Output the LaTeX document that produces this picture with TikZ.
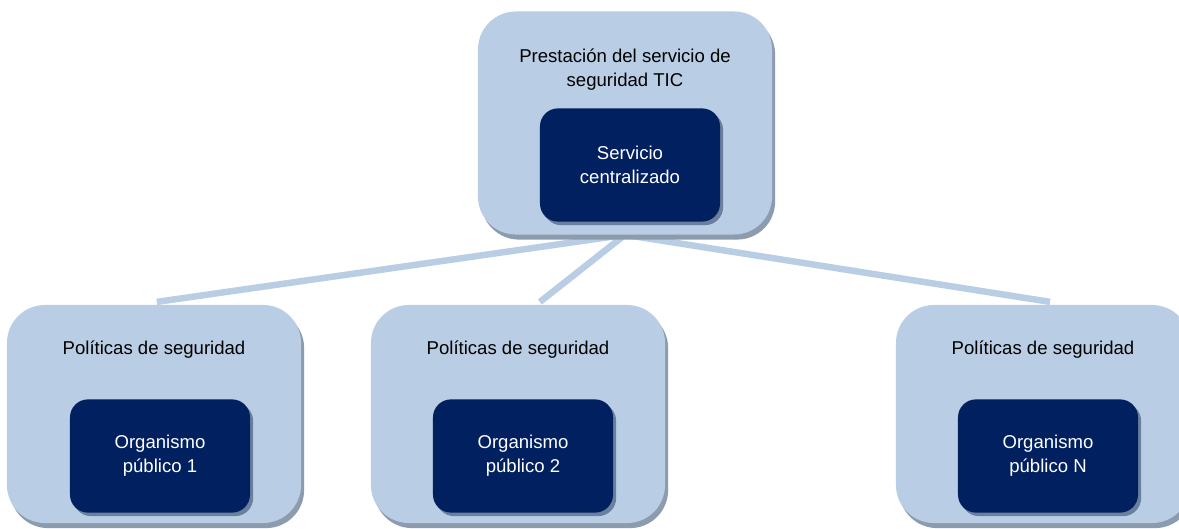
\documentclass[tikz,border=0pt]{standalone}
\usepackage{fontspec}
\setmainfont{Liberation Sans}
\usetikzlibrary{shadows,backgrounds}
\definecolor{paleblue}{HTML}{B9CDE5}
\definecolor{navy}{HTML}{002060}
\definecolor{shadeout}{HTML}{8D9BAE}
\definecolor{shadein}{HTML}{6B7F9E}

\begin{document}
\begin{tikzpicture}[x=0.025cm, y=-0.025cm, font=\fontsize{13.2}{17}\selectfont,
    outer/.style={rectangle, rounded corners=0.95cm, fill=paleblue, minimum width=7.35cm, minimum height=5.45cm,
      drop shadow={shadow xshift=2.2pt, shadow yshift=-3.6pt, fill=shadeout, opacity=1}},
    inner/.style={rectangle, rounded corners=0.45cm, fill=navy, text=white, align=center, minimum width=4.5cm, minimum height=2.83cm,
      drop shadow={shadow xshift=2.2pt, shadow yshift=-2.5pt, fill=shadein, opacity=1}},
    title/.style={align=center, text=black},
    link/.style={draw=paleblue, line width=4.6pt}]
  \useasboundingbox (0,0) rectangle (1179,528);
  \clip (0,0) rectangle (1179,528);

  % top level
  \node[outer, minimum height=5.575cm] (top) at (625,123) {};
  \node[title] (ttop) at (625,70) {Prestación del servicio de\\seguridad TIC};
  \node[inner] (serv) at (630,165) {Servicio\\centralizado};

  % organismos
  \node[outer] (pol1) at (154,414) {};
  \node[title] (t1) at (154,350) {Políticas de seguridad};
  \node[inner] (org1) at (160,456) {Organismo\\público 1};

  \node[outer] (pol2) at (518,414) {};
  \node[title] (t2) at (518,350) {Políticas de seguridad};
  \node[inner] (org2) at (523,456) {Organismo\\público 2};

  \node[outer] (polN) at (1043,414) {};
  \node[title] (tN) at (1043,350) {Políticas de seguridad};
  \node[inner] (orgN) at (1048,456) {Organismo\\público N};

  % links
  \begin{scope}[on background layer]
    \draw[link] (top.south) -- ([xshift=2pt, yshift=2pt]pol1.north);
    \draw[link] (top.south) -- ([xshift=15.6pt, yshift=2pt]pol2.north);
    \draw[link] (top.south) -- ([xshift=5pt, yshift=2pt]polN.north);
  \end{scope}
\end{tikzpicture}
\end{document}
